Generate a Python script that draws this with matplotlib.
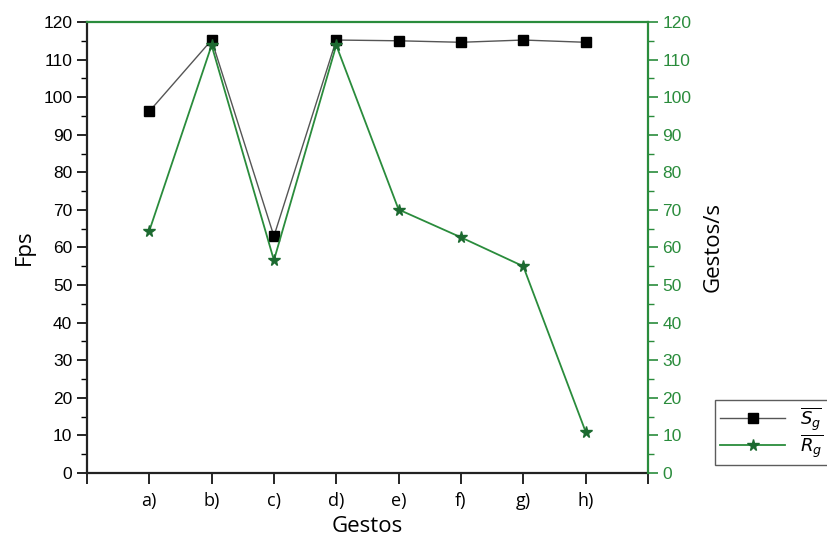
import matplotlib
matplotlib.use('Agg')
import matplotlib.pyplot as plt
from matplotlib.ticker import MultipleLocator, FixedLocator

# data
gestures = ['a)', 'b)', 'c)', 'd)', 'e)', 'f)', 'g)', 'h)']
fps_sg = [96.2, 115.2, 63.0, 115.2, 115.0, 114.6, 115.2, 114.6]
gest_rg = [64.4, 113.8, 56.6, 113.8, 70.1, 62.7, 55.0, 11.0]

GREEN = '#2a8c3c'
DARK_GREEN = '#1c6a30'
LABEL_FONT = 'Open Sans'

plt.rcParams['font.family'] = ['Liberation Sans', 'DejaVu Sans']
plt.rcParams['mathtext.fontset'] = 'dejavusans'

fig = plt.figure(figsize=(8.28, 5.43), dpi=100)
ax = fig.add_axes([0.105, 0.129, 0.6775, 0.8305])
ax2 = ax.twinx()

xs = list(range(1, len(gestures) + 1))

ax.plot(xs, fps_sg, color='#555555', lw=1.0, marker='s', ms=7,
        mfc='black', mec='black', label=r'$\overline{S_g}$', zorder=3)
ax2.plot(xs, gest_rg, color=GREEN, lw=1.3, marker='*', ms=8.5,
         mfc=DARK_GREEN, mec=DARK_GREEN, label=r'$\overline{R_g}$', zorder=3)

for a in (ax, ax2):
    a.set_xlim(0, 9)
    a.set_ylim(0, 120)

# x axis: ticks at every slot, labels only for gestures
ax.xaxis.set_major_locator(FixedLocator(range(0, 10)))
ax.set_xticklabels([''] + gestures + [''], fontfamily=LABEL_FONT, fontsize=13)
ax.tick_params(axis='x', direction='out', length=8, width=1.2, pad=6)

# left axis
ax.yaxis.set_major_locator(MultipleLocator(10))
ax.yaxis.set_minor_locator(MultipleLocator(5))
ax.tick_params(axis='y', which='major', direction='out', length=7, width=1.2, labelsize=12.5)
ax.tick_params(axis='y', which='minor', direction='out', length=4, width=1.0)

# right axis (green)
ax2.yaxis.set_major_locator(MultipleLocator(10))
ax2.yaxis.set_minor_locator(MultipleLocator(5))
ax2.tick_params(axis='y', which='major', direction='out', length=7, width=1.2,
                labelsize=12.5, colors=GREEN)
ax2.tick_params(axis='y', which='minor', direction='out', length=4, width=1.0, colors=GREEN)

# top ticks pointing inward, green
ax2.xaxis.set_ticks_position('top')
ax2.xaxis.set_major_locator(FixedLocator(range(0, 10)))
ax2.tick_params(axis='x', which='major', direction='in', length=7, width=1.2,
                colors=GREEN, labeltop=False, top=True, bottom=False)

for s in ('left', 'bottom'):
    ax.spines[s].set_color('#222222')
    ax.spines[s].set_linewidth(1.6)
ax.spines['top'].set_visible(False)
ax.spines['right'].set_visible(False)
ax2.spines['left'].set_visible(False)
ax2.spines['bottom'].set_visible(False)
for s in ('top', 'right'):
    ax2.spines[s].set_color(GREEN)
    ax2.spines[s].set_linewidth(1.6)

ax.set_xlabel('Gestos', fontfamily=LABEL_FONT, fontsize=16, labelpad=4)
ax.set_ylabel('Fps', fontfamily=LABEL_FONT, fontsize=16, labelpad=6)
ax2.set_ylabel('Gestos/s', fontfamily=LABEL_FONT, fontsize=16, labelpad=8)

h1, l1 = ax.get_legend_handles_labels()
h2, l2 = ax2.get_legend_handles_labels()
leg = fig.legend(h1 + h2, l1 + l2, loc='upper left',
                 bbox_to_anchor=(715 / 828, 1 - 400 / 543), borderaxespad=0,
                 frameon=True, fancybox=False, edgecolor='#333333',
                 fontsize=13, handlelength=3.6, labelspacing=0.0,
                 borderpad=0.3, handletextpad=0.8)
leg.get_frame().set_linewidth(1.0)

fig.savefig('out.png', dpi=100, facecolor='white')
